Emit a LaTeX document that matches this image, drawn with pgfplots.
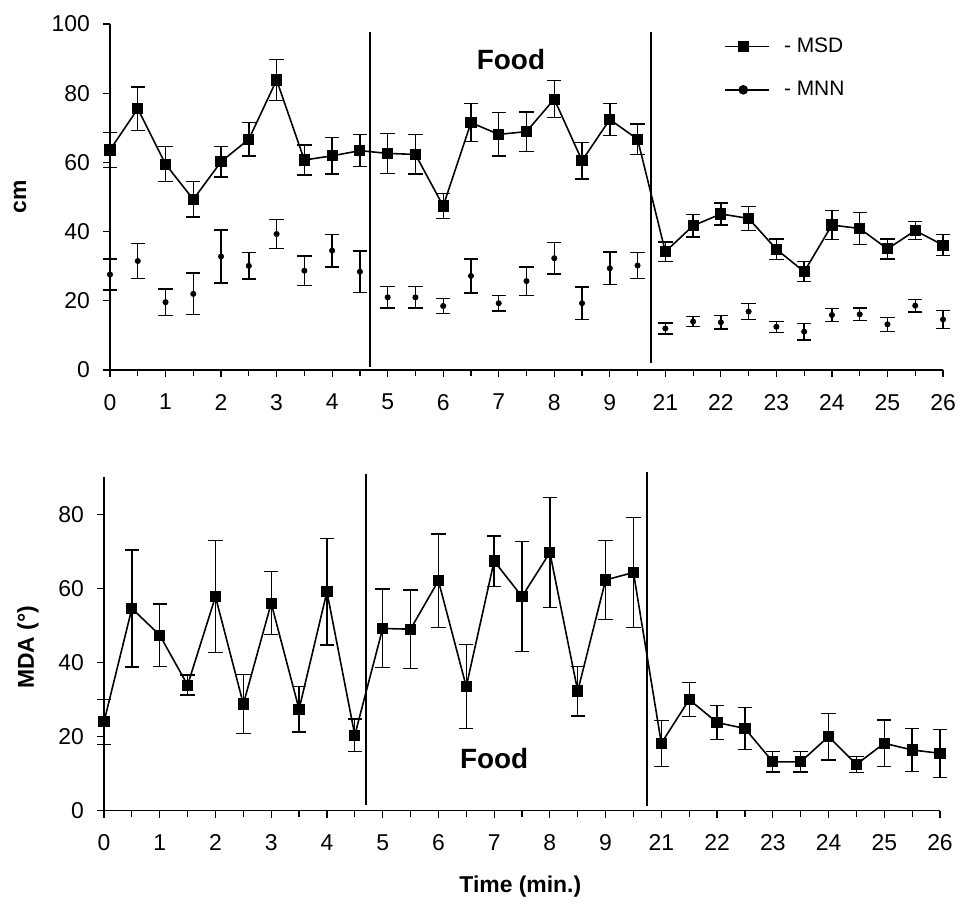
\documentclass[border=0pt]{standalone}
\usepackage{fontspec}
\setmainfont{Liberation Sans}
\usepackage{pgfplots}
\usepackage{pgfplotstable}
\pgfplotsset{compat=1.18}

% index i: 0..19 -> 0,0.5,...,9.5 min ; 20..30 -> 21,...,26 min
\pgfplotstableread{
i v e
0 63.6 5.0
1 75.5 6.3
2 59.5 5.1
3 49.3 5.1
4 60.2 4.4
5 66.7 4.9
6 83.8 5.9
7 60.7 4.3
8 61.9 5.3
9 63.4 4.6
10 62.6 5.8
11 62.3 5.7
12 47.4 3.6
13 71.5 5.5
14 68.1 6.3
15 68.9 5.7
16 78.3 5.4
17 60.5 5.3
18 72.4 4.6
19 66.7 4.4
20 34.2 2.8
21 41.7 3.3
22 45.1 3.2
23 43.8 3.5
24 34.9 3.0
25 28.4 2.9
26 41.9 4.2
27 40.9 4.6
28 35.0 2.9
29 40.3 2.6
30 36.1 3.0
}\msd

\pgfplotstableread{
i v e
0 27.6 4.5
1 31.5 5.0
2 19.6 3.8
3 22.0 6.0
4 32.8 7.7
5 30.1 3.8
6 39.3 4.2
7 28.7 4.3
8 34.5 4.7
9 28.4 6.0
10 21.0 3.1
11 21.0 3.1
12 18.5 2.2
13 27.2 4.9
14 19.3 2.3
15 25.7 4.1
16 32.3 4.6
17 19.3 4.7
18 29.4 4.7
19 30.2 3.7
20 12.0 1.6
21 14.0 1.5
22 13.8 2.0
23 16.9 2.3
24 12.5 1.6
25 11.1 2.4
26 15.9 1.8
27 16.1 1.8
28 13.2 2.0
29 18.6 1.8
30 14.6 2.6
}\mnn

\pgfplotstableread{
i v e
0 24.0 6.1
1 54.6 15.8
2 47.4 8.4
3 33.9 2.7
4 57.8 15.1
5 28.8 7.9
6 56.0 8.5
7 27.4 6.2
8 59.1 14.4
9 20.4 4.4
10 49.2 10.6
11 49.0 10.6
12 62.1 12.6
13 33.5 11.3
14 67.4 6.8
15 57.8 14.8
16 69.7 14.9
17 32.3 6.7
18 62.3 10.7
19 64.3 14.8
20 18.2 6.2
21 30.0 4.6
22 23.8 4.6
23 22.2 5.7
24 13.2 2.8
25 13.2 2.8
26 20.0 6.3
27 12.5 2.2
28 18.2 6.3
29 16.4 5.8
30 15.5 6.5
}\mda

\begin{document}
\begin{tikzpicture}
\useasboundingbox (0bp,0bp) rectangle (480.5bp,-451bp);
\pgfplotsset{
  panel/.style={
    scale only axis, axis lines*=left, tick align=outside,
    xmin=0, xmax=30, xtick={0,2,...,30}, minor xtick={1,3,...,29},
    xticklabels={0,1,2,3,4,5,6,7,8,9,21,22,23,24,25,26},
    major tick length=3.5bp, minor tick length=3bp,
    tick style={black, line width=0.6pt},
    axis line style={line width=0.6pt},
    tick label style={font=\fontsize{11.5}{13}\selectfont},
    xticklabel style={yshift=-5bp},
    yticklabel style={xshift=-3bp},
    /pgf/number format/assume math mode=true,
    label style={font=\bfseries\fontsize{11.5}{13}\selectfont},
    clip=false,
  },
  ebars/.style={
    error bars/y dir=both, error bars/y explicit,
    error bars/error bar style={line width=0.7pt, solid},
    error bars/error mark options={rotate=90, mark size=3.6pt, line width=0.7pt}},
  sq/.style={black, line width=0.8pt, mark=square*, mark size=2.4pt, ebars},
  dt/.style={black, only marks, mark=*, mark size=1.3pt, ebars},
}

% top panel
\begin{axis}[panel,
  at={(55bp,-185bp)}, anchor=south west,
  width=416.5bp, height=173bp,
  ymin=0, ymax=100, ytick={0,20,...,100},
  ylabel={cm},
  ylabel style={at={(rel axis cs:-0.108,0.5)}, anchor=center},
  legend image code/.code={
    \draw[mark repeat=2, mark phase=2, #1] plot coordinates {(0bp,0bp) (9bp,0bp) (22bp,0bp)};},
  legend style={draw=none, fill=none, at={(rel axis cs:0.73,0.985)},
    anchor=north west, font=\fontsize{10.5}{12}\selectfont,
    row sep=9bp, cells={anchor=west}},
]
\addplot[sq] table[x=i, y=v, y error=e] {\msd};
\addlegendentry{\hspace{5bp}- MSD}
\addplot[forget plot, dt] table[x=i, y=v, y error=e] {\mnn};
\addlegendimage{black, line width=0.8pt, mark=*, mark size=2pt}
\addlegendentry{\hspace{5bp}- MNN}
\addplot[black, line width=1pt, forget plot] coordinates {(9.36,1) (9.36,97.7)};
\addplot[black, line width=1pt, forget plot] coordinates {(19.5,2) (19.5,97.7)};
\node[font=\bfseries\fontsize{14}{16}\selectfont] at (axis cs:14.44,89.6) {Food};
\end{axis}

% bottom panel
\begin{axis}[panel,
  at={(52bp,-405.35bp)}, anchor=south west,
  width=418bp, height=166.7bp,
  ymin=0, ymax=90, ytick={0,20,...,80},
  ylabel={MDA (°)},
  ylabel style={at={(rel axis cs:-0.091,0.49)}, anchor=center},
  xlabel={Time (min.)},
  xlabel style={at={(rel axis cs:0.498,-0.229)}, anchor=center},
]
\addplot[sq] table[x=i, y=v, y error=e] {\mda};
\addplot[black, line width=1pt] coordinates {(9.4,1.5) (9.4,91)};
\addplot[black, line width=1pt] coordinates {(19.47,1.2) (19.47,91.5)};
\node[font=\bfseries\fontsize{14}{16}\selectfont] at (axis cs:14.0,14.2) {Food};
\end{axis}
\end{tikzpicture}
\end{document}
